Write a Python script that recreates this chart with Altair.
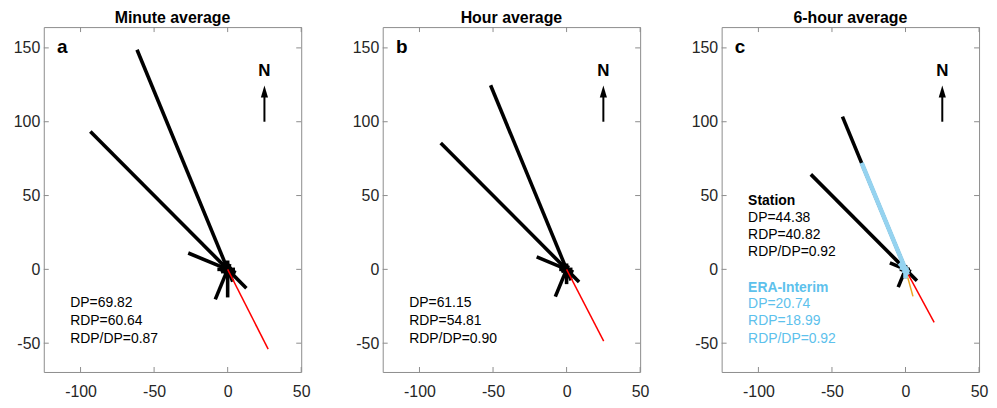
import altair as alt
import pandas as pd

# ---- data ----
DIRS = [0, 22.5, 45, 67.5, 90, 112.5, 135, 157.5, 180, 202.5, 225, 247.5, 270, 292.5, 315, 337.5]
MINUTE_DP = [6, 4, 3, 3, 5, 6, 18, 9, 19, 22, 4, 5, 7, 29, 132, 161]
HOUR_DP = [4, 3, 2, 2, 4, 5, 12, 8, 10, 20, 3, 4, 5, 22, 121, 135]
SIXHOUR_DP = [3, 2, 2, 2, 3, 4, 11, 5, 6, 13, 2, 3, 4, 11.5, 91, 112]
ERA_DP = [2, 1, 1, 1, 1, 2, 3, 4, 6, 3, 1, 1, 2, 4, 6, 78]

PANEL_LETTERS = ["a", "b", "c"]
PANEL_TITLES = ["Minute average", "Hour average", "6-hour average"]
STATION_DP = ["69.82", "61.15", "44.38"]
STATION_RDP = [60.64, 54.81, 40.82]
STATION_RATIO = ["0.87", "0.90", "0.92"]
STATION_RDD = [153.0, 152.6, 151.5]
ERA_DP_TXT = "20.74"
ERA_RDP = 18.99
ERA_RATIO = "0.92"
ERA_RDD = 164.5

X_TICKS = [-100, -50, 0, 50]
Y_TICKS = [-50, 0, 50, 100, 150]

W, H = 259, 347
FONT = "Liberation Sans"
BLUE_LINE = "#95D3F0"
BLUE_TEXT = "#5DC1EC"

xs = alt.Scale(domain=[-125, 50], nice=False, zero=False)
ys = alt.Scale(domain=[-69.5, 164.1], nice=False, zero=False)
xaxis = alt.Axis(values=X_TICKS, domain=False, ticks=False, tickSize=0, grid=False,
                 labelFontSize=16, labelFont=FONT, labelColor="#262626",
                 labelExpr="'' + datum.value",
                 labelPadding=12, labelFlush=False, title=None)
yaxis = alt.Axis(values=Y_TICKS, domain=False, ticks=False, tickSize=0, grid=False,
                 labelFontSize=16, labelFont=FONT, labelColor="#262626",
                 labelExpr="'' + datum.value",
                 labelPadding=4, labelFlush=False, title=None)


def X(f):
    return alt.X(f, scale=xs, axis=xaxis, title=None)


def Y(f):
    return alt.Y(f, scale=ys, axis=yaxis, title=None)


vec = dict(ex="datum.mag * sin(datum.dir * PI / 180)",
           ey="datum.mag * cos(datum.dir * PI / 180)", o="0")


def arms(mags, color, width):
    df = pd.DataFrame({"dir": DIRS, "mag": mags})
    return alt.Chart(df).transform_calculate(**vec).mark_rule(
        color=color, strokeWidth=width, strokeCap="butt", opacity=1, strokeOpacity=1).encode(
        x=X("o:Q"), y=Y("o:Q"), x2="ex:Q", y2="ey:Q")


def resultant(rdp, rdd, color):
    df = pd.DataFrame({"dir": [rdd], "mag": [rdp]})
    return alt.Chart(df).transform_calculate(**vec).mark_rule(
        color=color, strokeWidth=1.5, opacity=1).encode(
        x=X("o:Q"), y=Y("o:Q"), x2="ex:Q", y2="ey:Q")


def texts(df, size=14, bold=False):
    return alt.Chart(df).mark_text(align="left", baseline="middle", fontSize=size,
                                   font=FONT, fontWeight="bold" if bold else "normal").encode(
        x=X("x:Q"), y=Y("y:Q"), text="t:N", color=alt.Color("c:N", scale=None))


def frame_ticks():
    tc = "#8c8c8c"
    xt = pd.DataFrame({"v": X_TICKS})
    yt = pd.DataFrame({"v": Y_TICKS})
    top = alt.Chart(xt).mark_rule(color=tc).encode(x=X("v:Q"), y=alt.value(0), y2=alt.value(5))
    bot = alt.Chart(xt).mark_rule(color=tc).encode(x=X("v:Q"), y=alt.value(H - 5), y2=alt.value(H))
    left = alt.Chart(yt).mark_rule(color=tc).encode(y=Y("v:Q"), x=alt.value(0), x2=alt.value(5))
    right = alt.Chart(yt).mark_rule(color=tc).encode(y=Y("v:Q"), x=alt.value(W - 5), x2=alt.value(W))
    return [top, bot, left, right]


def north_arrow():
    shaft = alt.Chart(pd.DataFrame({"x": [25], "y": [100], "y2": [117]})).mark_rule(
        color="black", strokeWidth=2).encode(x=X("x:Q"), y=Y("y:Q"), y2="y2:Q")
    head = alt.Chart(pd.DataFrame({"x": [25], "y": [120.5]})).mark_point(
        shape="M0,-1L0.6,1L-0.6,1Z", size=144, filled=True, opacity=1, color="black").encode(
        x=X("x:Q"), y=Y("y:Q"))
    lab = alt.Chart(pd.DataFrame({"x": [25], "y": [134], "t": ["N"]})).mark_text(
        fontSize=17, fontWeight="bold", font=FONT, color="black", baseline="middle").encode(
        x=X("x:Q"), y=Y("y:Q"), text="t:N")
    return [shaft, head, lab]


def panel(i):
    layers = [arms([MINUTE_DP, HOUR_DP, SIXHOUR_DP][i], "black", 3.6)]
    layers.append(resultant(STATION_RDP[i], STATION_RDD[i], "#FF0000"))
    if i == 2:
        layers.append(resultant(ERA_RDP, ERA_RDD, "#EDA520"))
        layers.append(arms(ERA_DP, BLUE_LINE, 4.6))
    layers += frame_ticks()
    layers += north_arrow()
    layers.append(texts(pd.DataFrame({"x": [-116], "y": [150.5], "t": [PANEL_LETTERS[i]],
                                      "c": ["black"]}), size=19, bold=True))
    if i < 2:
        layers.append(texts(pd.DataFrame({
            "x": [-107] * 3, "y": [-23, -35, -47],
            "t": ["DP=" + STATION_DP[i], "RDP=%.2f" % STATION_RDP[i], "RDP/DP=" + STATION_RATIO[i]],
            "c": ["black"] * 3})))
    else:
        layers.append(texts(pd.DataFrame({"x": [-107, -107], "y": [46.5, -12.3],
                                          "t": ["Station", "ERA-Interim"],
                                          "c": ["black", BLUE_TEXT]}), bold=True))
        layers.append(texts(pd.DataFrame({
            "x": [-107] * 6, "y": [35, 23, 11.5, -23.5, -35, -47],
            "t": ["DP=" + STATION_DP[i], "RDP=%.2f" % STATION_RDP[i], "RDP/DP=" + STATION_RATIO[i],
                  "DP=" + ERA_DP_TXT, "RDP=%.2f" % ERA_RDP, "RDP/DP=" + ERA_RATIO],
            "c": ["black"] * 3 + [BLUE_TEXT] * 3})))
    return alt.layer(*layers).properties(
        width=W, height=H,
        title=alt.TitleParams(PANEL_TITLES[i], fontSize=16, fontWeight="bold", font=FONT,
                              color="black", offset=1, anchor="middle"))


chart = alt.hconcat(panel(0), panel(1), panel(2), spacing=82, bounds="flush").configure_view(
    stroke="#8c8c8c", strokeWidth=1).properties(
    background="white", padding={"left": 4, "top": 0, "right": 0, "bottom": 0})

chart.save("out.html", embed_options={"renderer": "svg", "actions": False})
